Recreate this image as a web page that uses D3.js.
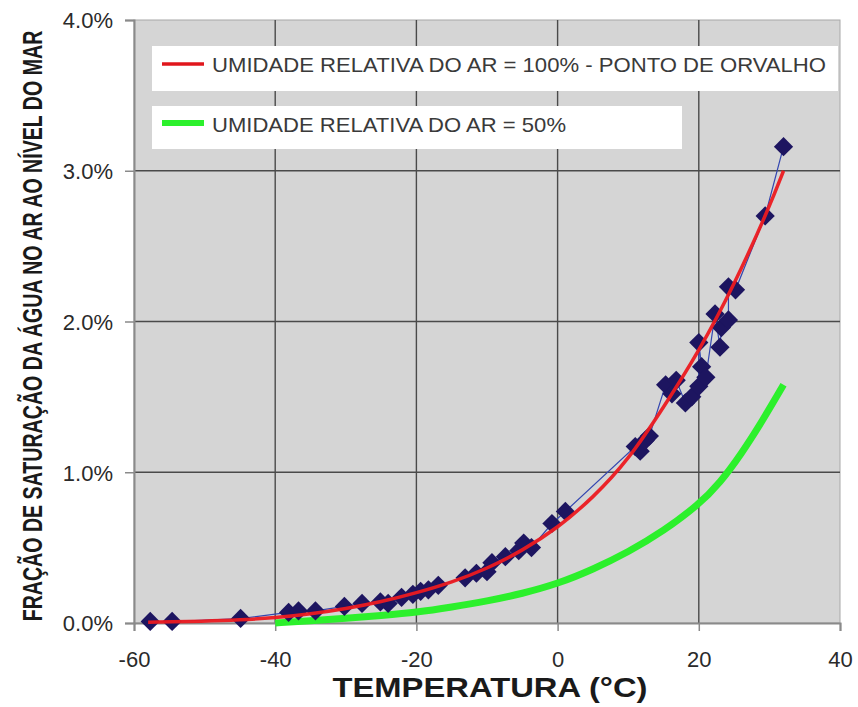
<!DOCTYPE html>
<html>
<head>
<meta charset="utf-8">
<script src="https://cdn.jsdelivr.net/npm/d3@7"></script>
<style>
  html, body { margin: 0; padding: 0; background: #fff; }
  svg text { font-family: "Liberation Sans", Arial, sans-serif; }
</style>
</head>
<body>
<svg id="chart" width="858" height="707"></svg>
<script>
// ---- data ----
const xTicks = [-60, -40, -20, 0, 20, 40];
const yTicks = [0, 1, 2, 3, 4];

// measured points (temperature °C, saturation %)
const measuredT = [-57.7, -54.6, -44.9, -38.1, -36.7, -34.3, -30.2, -27.7, -25.1, -24.0, -22.1, -20.5, -19.4, -18.3, -16.9, -13.1, -11.5, -10.0, -9.3, -7.4, -5.5, -4.8, -3.7, -0.8, 1.1, 11.0, 11.7, 12.4, 13.0, 15.3, 16.2, 16.8, 18.1, 19.0, 20.0, 20.4, 20.0, 21.0, 22.3, 23.0, 23.2, 24.2, 24.2, 25.2, 29.4, 32.0];
const measuredV = [0.01, 0.01, 0.03, 0.07, 0.08, 0.08, 0.11, 0.13, 0.14, 0.13, 0.17, 0.19, 0.21, 0.22, 0.25, 0.30, 0.33, 0.34, 0.40, 0.44, 0.48, 0.53, 0.50, 0.66, 0.74, 1.17, 1.14, 1.21, 1.24, 1.58, 1.52, 1.61, 1.46, 1.50, 1.57, 1.70, 1.86, 1.63, 2.05, 1.83, 1.96, 2.01, 2.23, 2.21, 2.70, 3.16];

// RH 100% curve (dew point)
const redT = [-58, -50, -45, -40, -35, -30, -25, -20, -15, -10, -5, 0, 5, 10, 15, 20, 25, 30, 32];
const redV = [0.005, 0.012, 0.02, 0.035, 0.06, 0.095, 0.14, 0.20, 0.27, 0.36, 0.48, 0.63, 0.83, 1.08, 1.43, 1.80, 2.24, 2.76, 3.00];

// RH 50% curve
const greenT = [-40, -35, -30, -25, -20, -15, -10, -5, 0, 5, 10, 15, 20, 23, 26, 29, 32];
const greenV = [0.0, 0.015, 0.03, 0.05, 0.07, 0.105, 0.145, 0.195, 0.26, 0.355, 0.47, 0.61, 0.785, 0.93, 1.12, 1.34, 1.58];

const legendLabels = ["UMIDADE RELATIVA DO AR = 100% - PONTO DE ORVALHO", "UMIDADE RELATIVA DO AR = 50%"];
const xTitle = "TEMPERATURA (°C)";
const yTitle = "FRAÇÃO DE SATURAÇÃO DA ÁGUA NO AR AO NÍVEL DO MAR";

// ---- layout ----
const svg = d3.select("#chart");
const L = 134, R = 840, T = 20, B = 623;
const x = d3.scaleLinear().domain([-60, 40]).range([L, R]);
const y = d3.scaleLinear().domain([0, 4]).range([B, T]);

// plot background
svg.append("rect").attr("x", L).attr("y", T).attr("width", R - L).attr("height", B - T)
  .attr("fill", "#d5d5d5").attr("stroke", "#a8a8a8").attr("stroke-width", 1);

// gridlines
svg.append("g").selectAll("line").data(xTicks.filter(d => d > -60 && d < 40)).join("line")
  .attr("x1", d => x(d)).attr("x2", d => x(d)).attr("y1", T).attr("y2", B)
  .attr("stroke", "#4a4a4a").attr("stroke-width", 1.4);
svg.append("g").selectAll("line").data(yTicks.filter(d => d > 0 && d < 4)).join("line")
  .attr("x1", L).attr("x2", R).attr("y1", d => y(d)).attr("y2", d => y(d))
  .attr("stroke", "#4a4a4a").attr("stroke-width", 1.4);

// axes
const xAxis = svg.append("g").attr("transform", `translate(0,${B})`)
  .call(d3.axisBottom(x).tickValues(xTicks).tickSize(8).tickPadding(20).tickFormat(d => String(d)));
const yAxis = svg.append("g").attr("transform", `translate(${L},0)`)
  .call(d3.axisLeft(y).tickValues(yTicks).tickSize(9).tickPadding(12).tickFormat(d => d.toFixed(1) + "%"));
[xAxis, yAxis].forEach(a => {
  a.select(".domain").attr("stroke", "#8a8a8a").attr("stroke-width", 2);
  a.selectAll(".tick line").attr("stroke", "#8a8a8a").attr("stroke-width", 1.5);
  a.selectAll(".tick text").attr("font-size", 22).attr("fill", "#2a2a2a")
    .attr("font-family", "'Liberation Sans', Arial, sans-serif");
});
yAxis.selectAll(".tick text").attr("dy", "0.36em");

// legend boxes
const legendRows = [
  {label: legendLabels[0], color: "#e0161c", width: 3.5, bx: 152, by: 46, bw: 686, bh: 45, ly: 64, ty: 72},
  {label: legendLabels[1], color: "#2cf02c", width: 6, bx: 152, by: 106, bw: 530, bh: 43, ly: 123, ty: 132}
];
const lg = svg.append("g");
legendRows.forEach((r, i) => {
  lg.append("rect").attr("x", r.bx).attr("y", r.by).attr("width", r.bw).attr("height", r.bh).attr("fill", "#fff");
  lg.append("line").attr("x1", 162).attr("x2", 204).attr("y1", r.ly).attr("y2", r.ly)
    .attr("stroke", r.color).attr("stroke-width", r.width);
  lg.append("text").attr("x", 212).attr("y", r.ty).attr("font-size", 21).attr("fill", "#3a3a3a")
    .attr("textLength", i === 0 ? 614 : 354).attr("lengthAdjust", "spacingAndGlyphs")
    .text(r.label);
});

// green curve (RH 50%)
const greenData = greenT.map((t, i) => [t, greenV[i]]);
svg.append("path").datum(greenData)
  .attr("d", d3.line().x(d => x(d[0])).y(d => y(d[1])).curve(d3.curveBasis))
  .attr("fill", "none").attr("stroke", "#2cf02c").attr("stroke-width", 7).attr("stroke-linecap", "butt");

// measured points: thin connecting line + diamonds
const measured = measuredT.map((t, i) => [t, measuredV[i]]).sort((a, b) => a[0] - b[0]);
svg.append("path").datum(measured)
  .attr("d", d3.line().x(d => x(d[0])).y(d => y(d[1])))
  .attr("fill", "none").attr("stroke", "#3346b0").attr("stroke-width", 1.2);
svg.append("g").selectAll("path").data(measured).join("path")
  .attr("d", d3.symbol().type(d3.symbolSquare).size(185))
  .attr("transform", d => `translate(${x(d[0])},${y(d[1])}) rotate(45)`)
  .attr("fill", "#1d1560");

// red curve (RH 100%)
const redData = redT.map((t, i) => [t, redV[i]]);
svg.append("path").datum(redData)
  .attr("d", d3.line().x(d => x(d[0])).y(d => y(d[1])).curve(d3.curveBasis))
  .attr("fill", "none").attr("stroke", "#ec1a20").attr("stroke-width", 3.5).attr("stroke-opacity", 0.95);

// axis titles
svg.append("text").attr("x", 490).attr("y", 697).attr("text-anchor", "middle")
  .attr("font-size", 28).attr("font-weight", "bold").attr("fill", "#1a1a1a")
  .attr("textLength", 315).attr("lengthAdjust", "spacingAndGlyphs").text(xTitle);
svg.append("text").attr("transform", "translate(42,326) rotate(-90) scale(1,1.38)").attr("text-anchor", "middle")
  .attr("font-size", 19.6).attr("font-weight", "bold").attr("fill", "#1a1a1a")
  .text(yTitle);
</script>
</body>
</html>
